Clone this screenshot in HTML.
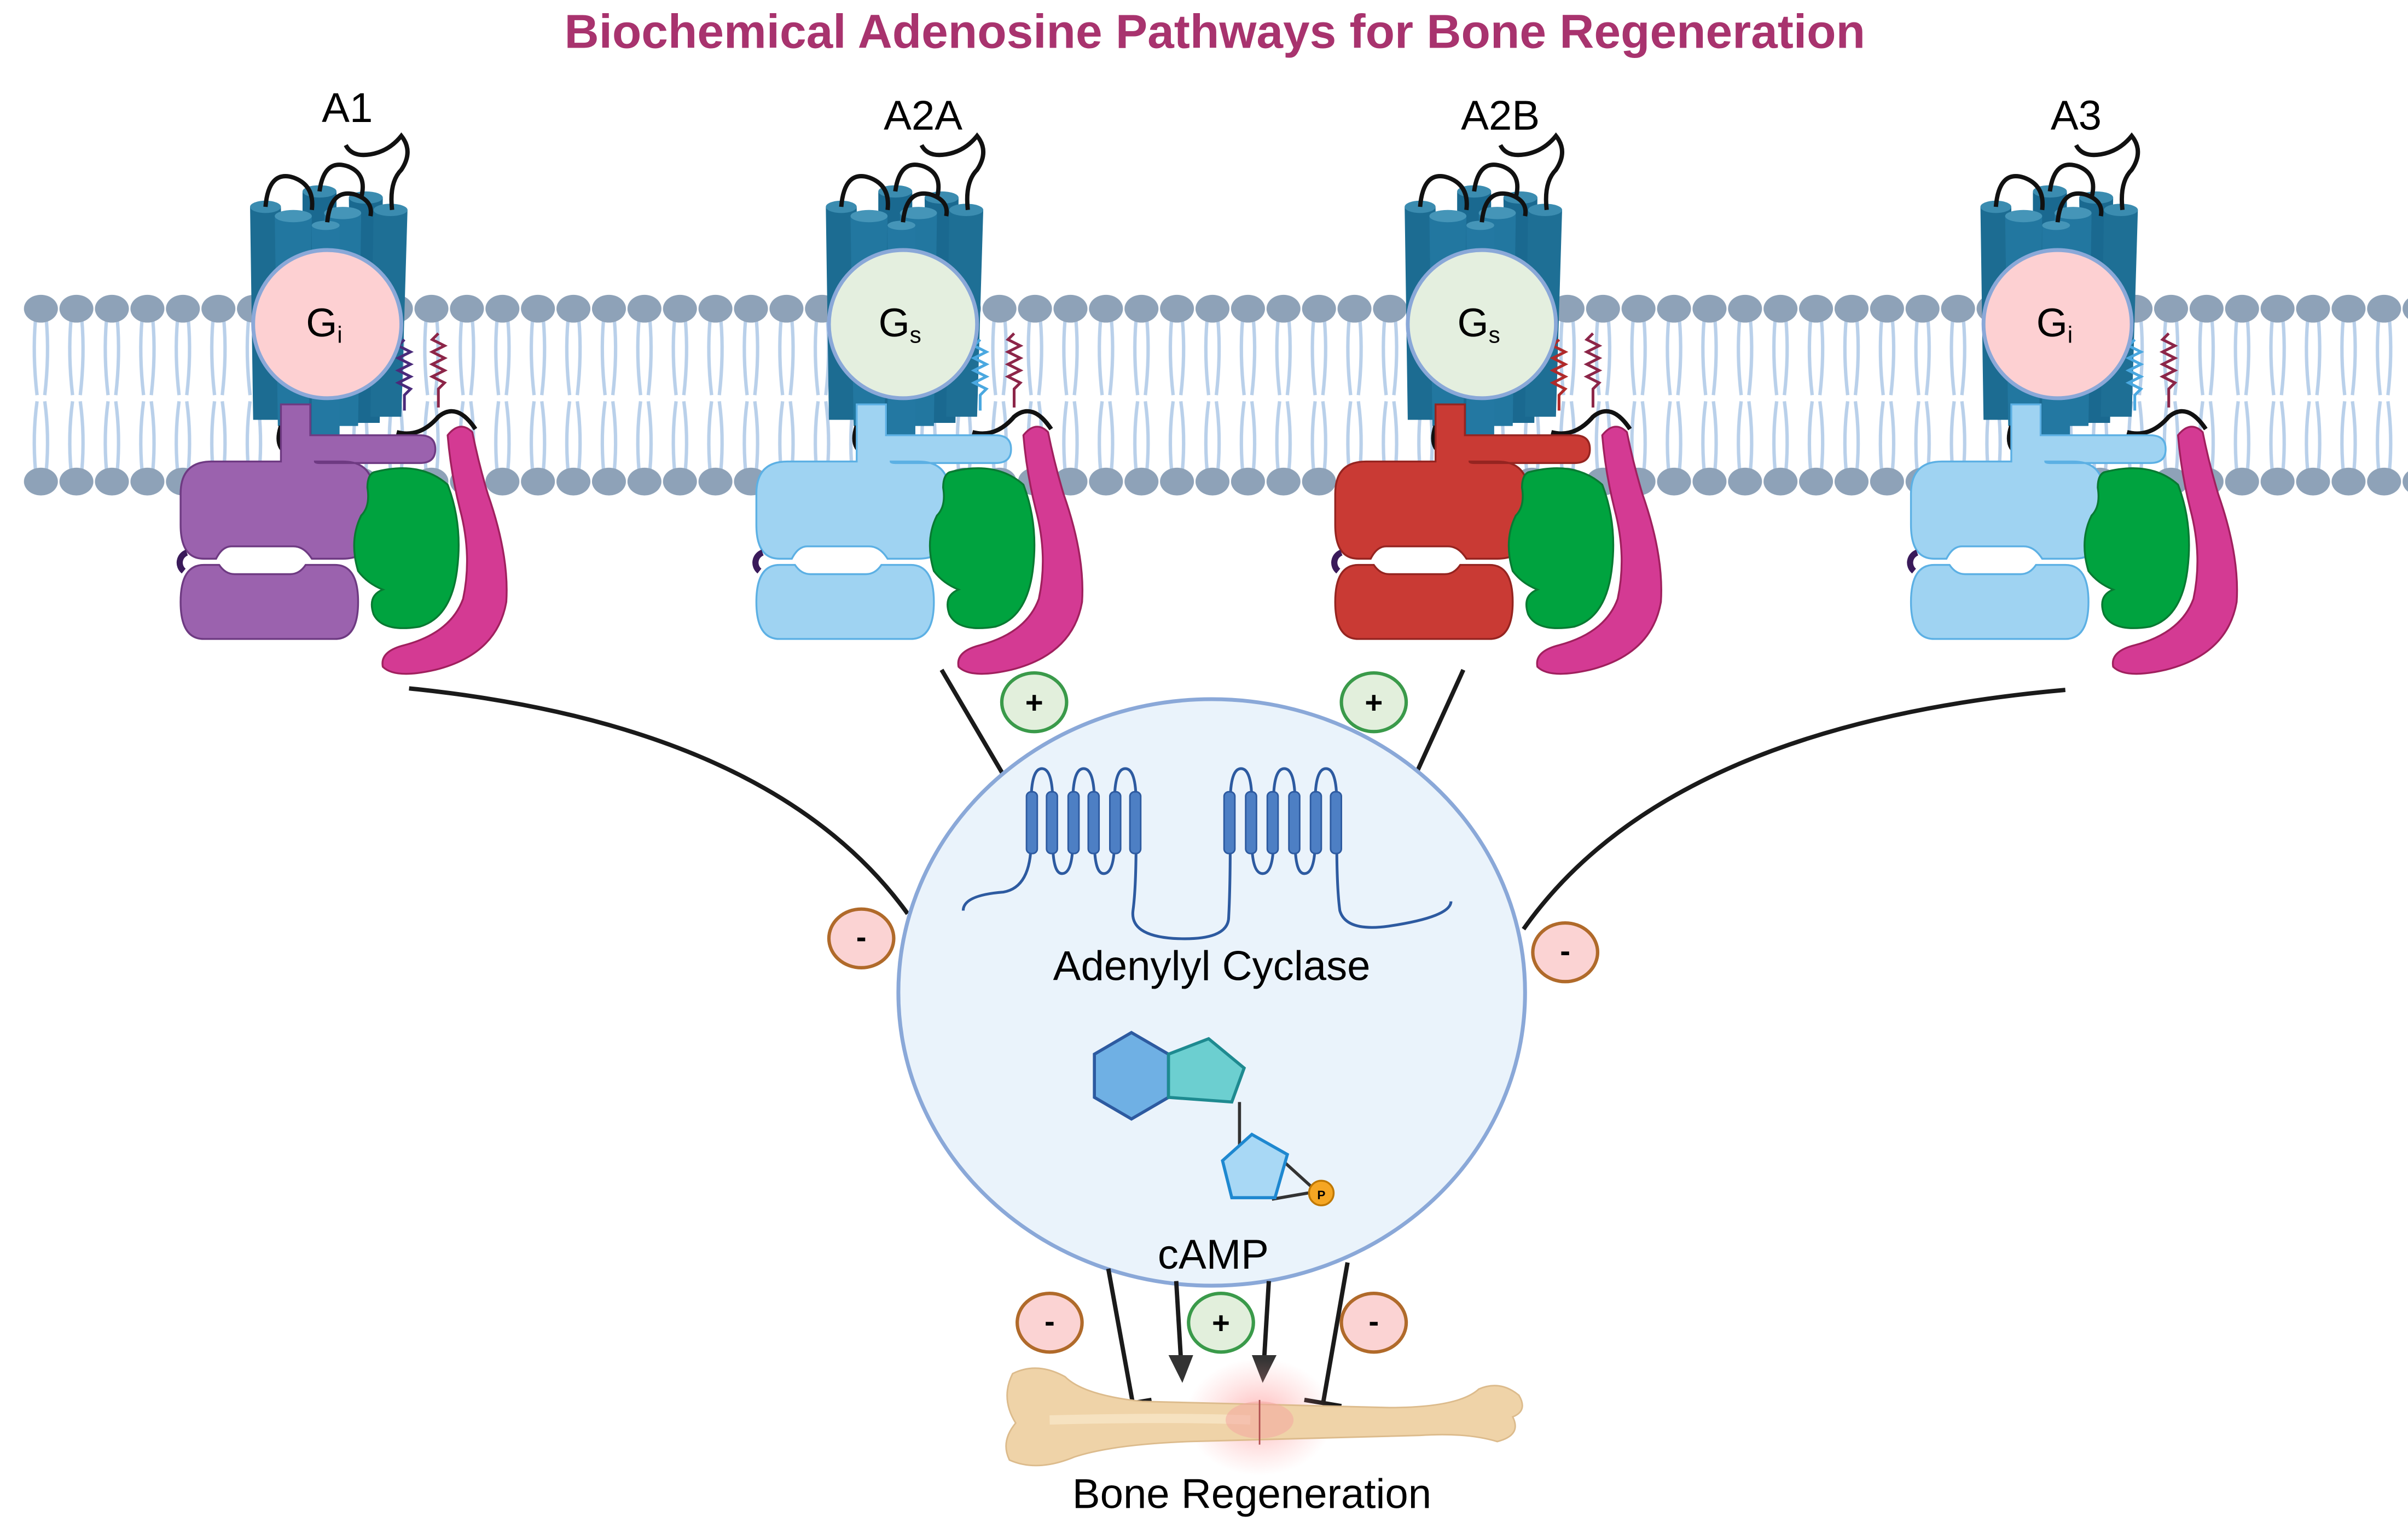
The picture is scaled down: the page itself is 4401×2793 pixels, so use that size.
<!DOCTYPE html>
<html><head><meta charset="utf-8"><style>
html,body{margin:0;padding:0;background:#fff;}
svg{display:block;}
text{font-family:"Liberation Sans",sans-serif;}
</style></head><body>
<svg width="4401" height="2793" viewBox="0 0 1560 990" xmlns="http://www.w3.org/2000/svg">
<defs>
<pattern id="mem" x="15" y="0" width="23" height="990" patternUnits="userSpaceOnUse">
  <path d="M8 207 Q6 230 9 256 M15 207 Q17 230 14 256 M8 305 Q6 282 9 260 M15 305 Q17 282 14 260" stroke="#b9d0ea" stroke-width="2.2" fill="none"/>
  <ellipse cx="11.5" cy="200" rx="11" ry="9" fill="#8ea2b8"/>
  <ellipse cx="11.5" cy="312" rx="11" ry="9" fill="#8ea2b8"/>
</pattern>
<g id="cyl">
  <path d="M-50 -76 L-30 -76 L-28 62 L-48 62 Z" fill="#1c6c92"/>
  <ellipse cx="-40" cy="-76" rx="10" ry="4" fill="#3b8cb0"/>
  <path d="M-16 -86 L6 -86 L6 72 L-16 72 Z" fill="#1a6990"/>
  <ellipse cx="-5" cy="-86" rx="11" ry="4" fill="#3b8cb0"/>
  <path d="M14 -82 L36 -82 L34 64 L16 64 Z" fill="#1a6990"/>
  <ellipse cx="25" cy="-82" rx="11" ry="4" fill="#3b8cb0"/>
  <path d="M30 -74 L52 -74 L48 60 L28 60 Z" fill="#1e6f95"/>
  <ellipse cx="41" cy="-74" rx="11" ry="4" fill="#3b8cb0"/>
  <path d="M-34 -70 L-10 -70 L-12 66 L-32 66 Z" fill="#2277a0"/>
  <ellipse cx="-22" cy="-70" rx="12" ry="4" fill="#4595b8"/>
  <path d="M-2 -72 L22 -72 L20 66 L0 66 Z" fill="#2277a0"/>
  <ellipse cx="10" cy="-72" rx="12" ry="4" fill="#4595b8"/>
  <path d="M-10 -64 L8 -64 L8 74 L-10 74 Z" fill="#2378a2"/>
  <ellipse cx="-1" cy="-64" rx="9" ry="3" fill="#4595b8"/>
  <path d="M-40 -76 Q-38 -100 -22 -95 Q-8 -90 -10 -74" stroke="#111" stroke-width="2.8" fill="none"/>
  <path d="M-5 -86 Q-2 -108 14 -102 Q26 -97 22 -82" stroke="#111" stroke-width="2.8" fill="none"/>
  <path d="M0 -66 Q2 -88 18 -84 Q30 -80 28 -70" stroke="#111" stroke-width="2.8" fill="none"/>
  <path d="M42 -74 Q40 -92 48 -100 Q56 -112 48 -122 Q40 -112 28 -110 Q16 -108 12 -116" stroke="#111" stroke-width="2.8" fill="none"/>
  <path d="M-30 66 Q-36 84 -18 86 Q-2 88 0 76" stroke="#111" stroke-width="2.8" fill="none"/>
  <path d="M45 70 Q60 74 72 60 Q84 50 96 68" stroke="#111" stroke-width="2.8" fill="none"/>
</g>
<g id="gb">
  <path d="M30 96 Q60 88 78 104 Q88 130 84 160 Q80 190 60 196 Q36 200 30 188 Q26 176 36 172 Q26 168 20 160 Q14 140 22 124 Q28 118 26 106 Q26 98 30 96Z" fill="#00a33f" stroke="#087a32" stroke-width="1.2"/>
  <path d="M78 72 Q86 62 94 70 Q98 90 104 110 Q118 150 116 180 Q110 214 70 224 Q44 230 36 222 Q34 212 50 208 Q80 200 88 178 Q94 150 86 120 Q80 96 78 72Z" fill="#d43a93" stroke="#a0205e" stroke-width="1.2"/>
</g>
<g id="alpha">
  <path d="M-30 52 H-11 V72 H60 Q70 72 70 81 Q70 90 60 90 H-5 Q-8 90 -8 89 H10 Q30 89 30 110 V130 Q30 152 10 152 H-10 Q-15 144 -22 144 H-62 Q-68 144 -72 152 H-80 Q-95 152 -95 130 V110 Q-95 89 -75 89 H-30 Z"/>
  <path d="M-80 156 H-70 Q-66 162 -60 162 H-24 Q-18 162 -14 156 H5 Q20 156 20 180 Q20 204 5 204 H-80 Q-95 204 -95 180 Q-95 156 -80 156 Z"/>
</g>
<radialGradient id="glow"><stop offset="0" stop-color="#ff7f7f" stop-opacity="0.55"/><stop offset="1" stop-color="#ff9a9a" stop-opacity="0"/></radialGradient>
</defs>

<rect x="15" y="188" width="1545" height="136" fill="url(#mem)"/>

<text x="787" y="31" text-anchor="middle" font-size="31" font-weight="bold" fill="#a8336e">Biochemical Adenosine Pathways for Bone Regeneration</text>

<g font-size="27" text-anchor="middle" fill="#000">
<text x="225" y="79">A1</text>
<text x="598" y="84">A2A</text>
<text x="972" y="84">A2B</text>
<text x="1345" y="84">A3</text>
</g>

<!-- A1 -->
<g transform="translate(212,210)">
  <use href="#cyl"/>
  <path d="M50 10 l-4 4 l8 4 l-8 4 l8 4 l-8 4 l8 4 l-8 4 l8 4 l-4 4 v10" stroke="#4a2a7a" stroke-width="1.8" fill="none"/>
  <path d="M72 6 l-4 4 l8 4 l-8 4 l8 4 l-8 4 l8 4 l-8 4 l8 4 l-4 4 v12" stroke="#8c2548" stroke-width="1.8" fill="none"/>
  <use href="#alpha" fill="#9b62ae" stroke="#6e3a82" stroke-width="1.2"/>
  <path d="M-93 160 a7 7 0 0 1 2 -12" stroke="#3a1a5a" stroke-width="4" fill="none"/>
  <use href="#gb"/>
  <circle cx="0" cy="0" r="48" fill="#fdd0d2" stroke="#8aa8d8" stroke-width="2.5"/>
  <text x="-2" y="8" font-size="26" text-anchor="middle">G<tspan font-size="15" dy="4">i</tspan></text>
</g>

<!-- A2A -->
<g transform="translate(585,210)">
  <use href="#cyl"/>
  <path d="M50 10 l-4 4 l8 4 l-8 4 l8 4 l-8 4 l8 4 l-8 4 l8 4 l-4 4 v10" stroke="#4aa8e0" stroke-width="1.8" fill="none"/>
  <path d="M72 6 l-4 4 l8 4 l-8 4 l8 4 l-8 4 l8 4 l-8 4 l8 4 l-4 4 v12" stroke="#8c2548" stroke-width="1.8" fill="none"/>
  <use href="#alpha" fill="#9fd3f2" stroke="#5cb0e4" stroke-width="1.2"/>
  <path d="M-93 160 a7 7 0 0 1 2 -12" stroke="#3a1a5a" stroke-width="4" fill="none"/>
  <use href="#gb"/>
  <circle cx="0" cy="0" r="48" fill="#e4efdf" stroke="#8aa8d8" stroke-width="2.5"/>
  <text x="-2" y="8" font-size="26" text-anchor="middle">G<tspan font-size="15" dy="4">s</tspan></text>
</g>

<!-- A2B -->
<g transform="translate(960,210)">
  <use href="#cyl"/>
  <path d="M50 10 l-4 4 l8 4 l-8 4 l8 4 l-8 4 l8 4 l-8 4 l8 4 l-4 4 v10" stroke="#b02a2a" stroke-width="1.8" fill="none"/>
  <path d="M72 6 l-4 4 l8 4 l-8 4 l8 4 l-8 4 l8 4 l-8 4 l8 4 l-4 4 v12" stroke="#8c2548" stroke-width="1.8" fill="none"/>
  <use href="#alpha" fill="#c93a34" stroke="#952420" stroke-width="1.2"/>
  <path d="M-93 160 a7 7 0 0 1 2 -12" stroke="#3a1a5a" stroke-width="4" fill="none"/>
  <use href="#gb"/>
  <circle cx="0" cy="0" r="48" fill="#e4efdf" stroke="#8aa8d8" stroke-width="2.5"/>
  <text x="-2" y="8" font-size="26" text-anchor="middle">G<tspan font-size="15" dy="4">s</tspan></text>
</g>

<!-- A3 -->
<g transform="translate(1333,210)">
  <use href="#cyl"/>
  <path d="M50 10 l-4 4 l8 4 l-8 4 l8 4 l-8 4 l8 4 l-8 4 l8 4 l-4 4 v10" stroke="#4aa8e0" stroke-width="1.8" fill="none"/>
  <path d="M72 6 l-4 4 l8 4 l-8 4 l8 4 l-8 4 l8 4 l-8 4 l8 4 l-4 4 v12" stroke="#8c2548" stroke-width="1.8" fill="none"/>
  <use href="#alpha" fill="#9fd3f2" stroke="#5cb0e4" stroke-width="1.2"/>
  <path d="M-93 160 a7 7 0 0 1 2 -12" stroke="#3a1a5a" stroke-width="4" fill="none"/>
  <use href="#gb"/>
  <circle cx="0" cy="0" r="48" fill="#fdd0d2" stroke="#8aa8d8" stroke-width="2.5"/>
  <text x="-2" y="8" font-size="26" text-anchor="middle">G<tspan font-size="15" dy="4">i</tspan></text>
</g>

<g stroke="#1a1a1a" stroke-width="2.8" fill="none">
  <path d="M265 446 Q500 470 588 592"/>
  <path d="M610 434 L650 502"/>
  <path d="M948 434 L918 500"/>
  <path d="M1338 447 Q1080 470 987 602"/>
</g>

<ellipse cx="785" cy="643" rx="203" ry="190" fill="#eaf3fb" stroke="#8aa8d8" stroke-width="2.5"/>

<g stroke="#2d5aa0" stroke-width="1.8" fill="none">
  <path d="M624 590 Q624 580 650 578 Q668 575 668 545 M668 520 Q668 498 675 498 Q682 498 682 520 M682 545 Q682 566 688 566 Q695 566 695 545 M695 520 Q695 498 702 498 Q709 498 709 520 M709 545 Q709 566 715 566 Q722 566 722 545 M722 520 Q722 498 729 498 Q736 498 736 520 M736 545 Q736 575 734 590 Q732 606 760 608 Q796 610 796 594 Q797 575 797 545 M797 520 Q797 498 804 498 Q811 498 811 520 M811 545 Q811 566 818 566 Q825 566 825 545 M825 520 Q825 498 832 498 Q839 498 839 520 M839 545 Q839 566 845 566 Q852 566 852 545 M852 520 Q852 498 859 498 Q866 498 866 520 M866 545 Q866 575 868 590 Q872 604 900 600 Q940 594 940 584"/>
</g>
<g fill="#4d7fc4" stroke="#2d5aa0" stroke-width="1">
  <rect x="665" y="513" width="7" height="40" rx="3"/><rect x="678" y="513" width="7" height="40" rx="3"/><rect x="692" y="513" width="7" height="40" rx="3"/><rect x="705" y="513" width="7" height="40" rx="3"/><rect x="719" y="513" width="7" height="40" rx="3"/><rect x="732" y="513" width="7" height="40" rx="3"/>
  <rect x="793" y="513" width="7" height="40" rx="3"/><rect x="807" y="513" width="7" height="40" rx="3"/><rect x="821" y="513" width="7" height="40" rx="3"/><rect x="835" y="513" width="7" height="40" rx="3"/><rect x="849" y="513" width="7" height="40" rx="3"/><rect x="862" y="513" width="7" height="40" rx="3"/>
</g>
<text x="785" y="635" font-size="27" text-anchor="middle">Adenylyl Cyclase</text>

<line x1="803" y1="714" x2="803" y2="748" stroke="#333" stroke-width="2"/>
<line x1="831" y1="752" x2="853" y2="772" stroke="#333" stroke-width="2"/>
<line x1="824" y1="777" x2="853" y2="772" stroke="#333" stroke-width="2"/>
<polygon points="733,669 757,683 757,711 733,725 709,711 709,683" fill="#6fb0e4" stroke="#2d5aa0" stroke-width="2"/>
<polygon points="757,683 783,673 806,692 798,714 757,711" fill="#6ccfd0" stroke="#1e8a90" stroke-width="2"/>
<polygon points="811,735 834,748 826,776 798,776 792,752" fill="#a8d8f5" stroke="#1e88d0" stroke-width="2"/>
<circle cx="856" cy="773" r="8" fill="#f5a623" stroke="#c07800" stroke-width="1.2"/>
<text x="856" y="777" font-size="8" font-weight="bold" text-anchor="middle">P</text>
<text x="786" y="822" font-size="27" text-anchor="middle">cAMP</text>

<g stroke="#1a1a1a" stroke-width="2.8" fill="none">
  <path d="M718 822 L734 910"/><path d="M722 911 L746 907"/>
  <path d="M762 830 L765 880"/>
  <path d="M822 830 L819 880"/>
  <path d="M873 818 L857 910"/><path d="M845 907 L869 911"/>
</g>
<polygon points="757,878 773,878 766,896" fill="#333"/>
<polygon points="811,878 827,878 818,896" fill="#333"/>

<!-- bone -->
<ellipse cx="816" cy="918" rx="48" ry="38" fill="url(#glow)"/>
<path d="M656 890 Q672 882 690 892 Q702 904 740 908 L900 912 Q945 912 958 900 Q972 894 984 904 Q990 914 980 918 Q986 930 970 934 Q950 928 920 930 L770 934 Q720 936 696 944 Q672 954 654 946 Q648 934 658 922 Q648 906 656 890 Z" fill="#efd3a8" stroke="#dcbb8c" stroke-width="1"/>
<path d="M680 920 Q760 918 810 920" stroke="#f6e2c0" stroke-width="6" fill="none"/>
<ellipse cx="816" cy="920" rx="22" ry="12" fill="#f4a8a0" opacity="0.55"/>
<line x1="816" y1="907" x2="816" y2="936" stroke="#b05050" stroke-width="1"/>
<text x="811" y="977" font-size="27" text-anchor="middle">Bone Regeneration</text>

<g stroke-width="2.2">
  <ellipse cx="558" cy="608" rx="21" ry="19" fill="#fbd3d3" stroke="#b06a2a"/>
  <ellipse cx="1014" cy="617" rx="21" ry="19" fill="#fbd3d3" stroke="#b06a2a"/>
  <ellipse cx="680" cy="857" rx="21" ry="19" fill="#fbd3d3" stroke="#b06a2a"/>
  <ellipse cx="890" cy="857" rx="21" ry="19" fill="#fbd3d3" stroke="#b06a2a"/>
  <ellipse cx="670" cy="455" rx="21" ry="19" fill="#e2efdc" stroke="#3a9a4a"/>
  <ellipse cx="890" cy="455" rx="21" ry="19" fill="#e2efdc" stroke="#3a9a4a"/>
  <ellipse cx="791" cy="857" rx="21" ry="19" fill="#e2efdc" stroke="#3a9a4a"/>
</g>
<g font-size="20" font-weight="bold" text-anchor="middle">
  <text x="558" y="614">-</text><text x="1014" y="623">-</text><text x="680" y="863">-</text><text x="890" y="863">-</text>
  <text x="670" y="462">+</text><text x="890" y="462">+</text><text x="791" y="864">+</text>
</g>
</svg>
</body></html>
